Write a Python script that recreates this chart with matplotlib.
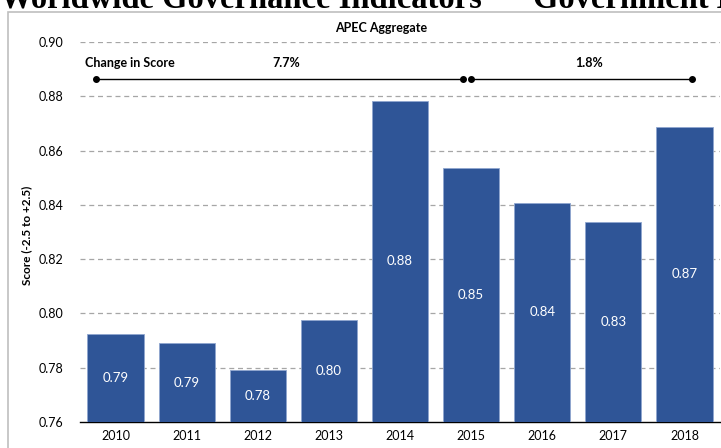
import matplotlib
matplotlib.use("Agg")
from matplotlib import pyplot as plt
from matplotlib.patches import Rectangle

years = ["2010", "2011", "2012", "2013", "2014", "2015", "2016", "2017", "2018"]
scores = [0.7924, 0.7891, 0.7792, 0.7976, 0.8783, 0.8536, 0.8407, 0.8337, 0.8687]
score_labels = ["0.79", "0.79", "0.78", "0.80", "0.88", "0.85", "0.84", "0.83", "0.87"]
y_ticks = [0.76, 0.78, 0.80, 0.82, 0.84, 0.86, 0.88, 0.90]

# change-in-score brackets: (start, end, text), positions in bar units
changes = [(-0.28, 4.89, "7.7%"), (5.0, 8.11, "1.8%")]

plt.rcParams['font.family'] = ['Lato', 'DejaVu Sans']

fig = plt.figure(figsize=(7.21, 4.48), dpi=100)
ax = fig.add_axes([80 / 721, 1 - 422 / 448, 640 / 721, 380 / 448])

# light frame around the chart
fig.patches.append(Rectangle((8 / 721, -0.05), 1.0, 1 - 12 / 448 + 0.05,
                             transform=fig.transFigure, fill=False,
                             edgecolor='#BFBFBF', linewidth=1.2))

x = range(len(years))
ax.bar(x, [s - 0.76 for s in scores], bottom=0.76, width=0.79,
       color='#2F5597', edgecolor='#8FA6CF', linewidth=0.6, zorder=3)
for i, (s, lab) in enumerate(zip(scores, score_labels)):
    ax.text(i, (0.76 + s) / 2, lab, ha='center', va='center',
            color='white', fontsize=9.5, zorder=4)

ax.set_xlim(-0.5, len(years) - 0.5)
ax.set_ylim(0.76, 0.90)
ax.set_yticks(y_ticks)
ax.set_yticklabels([f"{t:.2f}" for t in y_ticks], fontsize=9)
ax.set_xticks(list(x))
ax.set_xticklabels(years, fontsize=9)
ax.tick_params(axis='both', length=0, pad=12)
ax.tick_params(axis='x', pad=6)
for t in y_ticks[1:]:
    ax.axhline(t, color='#A6A6A6', linestyle=(0, (4, 3)), linewidth=0.9, zorder=1)
for side in ['left', 'right', 'top']:
    ax.spines[side].set_visible(False)
ax.spines['bottom'].set_color('black')
ax.spines['bottom'].set_linewidth(1.0)
ax.set_ylabel("Score (-2.5 to +2.5)", fontsize=8.5, fontweight='bold')
ax.yaxis.set_label_coords(-0.075, 0.49)

# change in score brackets
ax.text(-0.43, 0.8923, "Change in Score", fontsize=9, fontweight='bold',
        ha='left', va='center')
for x0, x1, txt in changes:
    ax.plot([x0, x1], [0.8864, 0.8864], color='black', linewidth=1.0,
            marker='o', markersize=4, clip_on=False, zorder=5)
    ax.text((x0 + x1) / 2 + 0.1, 0.8923, txt, fontsize=9, fontweight='bold',
            ha='center', va='center')

fig.text(381 / 721, 1 - 28 / 448, "APEC Aggregate", fontsize=9,
         fontweight='bold', ha='center', va='center')

# page title, clipped at the top edge
fig.text(0.0, 1 - 7.5 / 448, "Worldwide Governance Indicators",
         family='Liberation Serif', fontweight='bold', fontsize=23.5,
         ha='left', va='baseline')
fig.text(533 / 721, 1 - 7.5 / 448, "Government Effectiveness",
         family='Liberation Serif', fontweight='bold', fontsize=23.5,
         ha='left', va='baseline')

fig.savefig("out.png", dpi=100)
